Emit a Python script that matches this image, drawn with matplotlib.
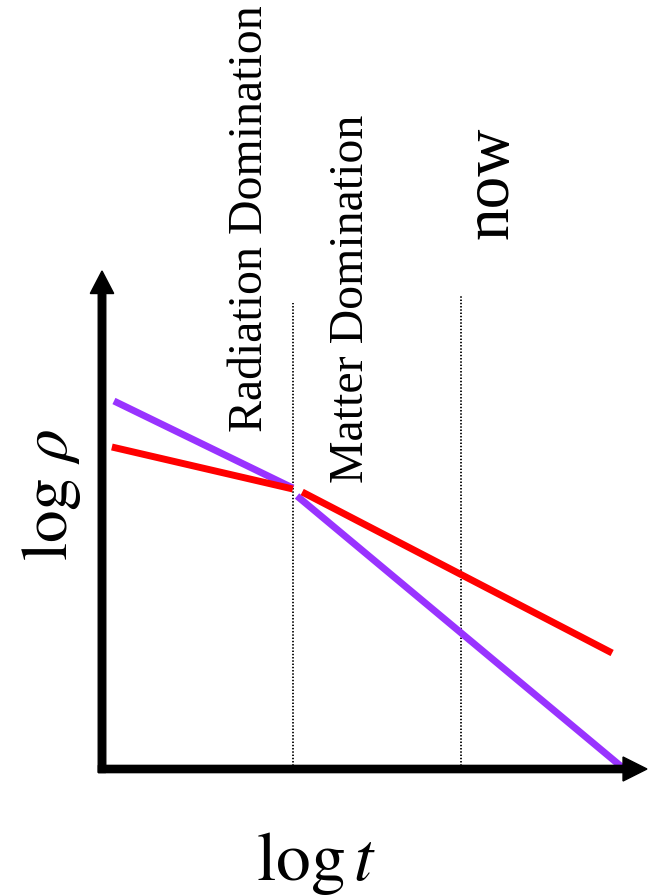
import matplotlib
matplotlib.use('Agg')
from matplotlib import pyplot as plt

plt.rcParams['font.family'] = ['Liberation Serif', 'DejaVu Serif']
plt.rcParams['mathtext.fontset'] = 'stix'

# log t / log rho in arbitrary units
radiation_t = [0.23, 3.67]
radiation_rho = [7.36, 5.62]
radiation_late_t = [3.75, 10.02]
radiation_late_rho = [5.46, 0.02]

matter_early_t = [0.19, 3.67]
matter_early_rho = [6.44, 5.60]
matter_t = [3.85, 9.81]
matter_rho = [5.54, 2.32]

# epochs: matter-radiation equality and today
epoch_t = [3.67, 6.90]
epoch_top = [9.32, 9.48]

PURPLE = '#9933ff'
RED = '#ff0000'

fig = plt.figure(figsize=(6.54, 8.96), dpi=100)
ax = fig.add_axes([102 / 654, 127 / 896, 520 / 654, 500 / 896])
ax.set_xlim(0, 10)
ax.set_ylim(0, 10)
ax.axis('off')

# axes with arrow heads
ax.arrow(0, -0.07, 0, 10.03, width=0.145, head_width=0.45, head_length=0.45,
         length_includes_head=True, color='black', clip_on=False, zorder=5)
ax.arrow(-0.07, 0, 10.55, 0, width=0.145, head_width=0.48, head_length=0.46,
         length_includes_head=True, color='black', clip_on=False, zorder=5)

for t, top in zip(epoch_t, epoch_top):
    ax.plot([t, t], [0, top], color='black', lw=1.3, linestyle=(0, (0.8, 1.0)),
            clip_on=False, zorder=1)

ax.plot(radiation_t, radiation_rho, color=PURPLE, lw=5, solid_capstyle='butt',
        clip_on=False, zorder=2)
ax.plot(radiation_late_t, radiation_late_rho, color=PURPLE, lw=5,
        solid_capstyle='butt', clip_on=False, zorder=2)
ax.plot(matter_early_t, matter_early_rho, color=RED, lw=5, solid_capstyle='butt',
        clip_on=False, zorder=3)
ax.plot(matter_t, matter_rho, color=RED, lw=5, solid_capstyle='butt',
        clip_on=False, zorder=3)

ax.text(3.08, 6.74, 'Radiation Domination', rotation=90, rotation_mode='anchor',
        ha='left', va='baseline', fontsize=34.5)
ax.text(5.02, 5.72, 'Matter Domination', rotation=90, rotation_mode='anchor',
        ha='left', va='baseline', fontsize=34.5)
ax.text(7.79, 10.6, 'now', rotation=90, rotation_mode='anchor',
        ha='left', va='baseline', fontsize=47)

ax.text(-0.67, 5.48, r'$\log\,\rho$', rotation=90, rotation_mode='anchor',
        ha='center', va='baseline', fontsize=47)
ax.text(4.12, -2.22, r'$\log t$', ha='center', va='baseline', fontsize=50)

fig.savefig('out.png', dpi=100)
